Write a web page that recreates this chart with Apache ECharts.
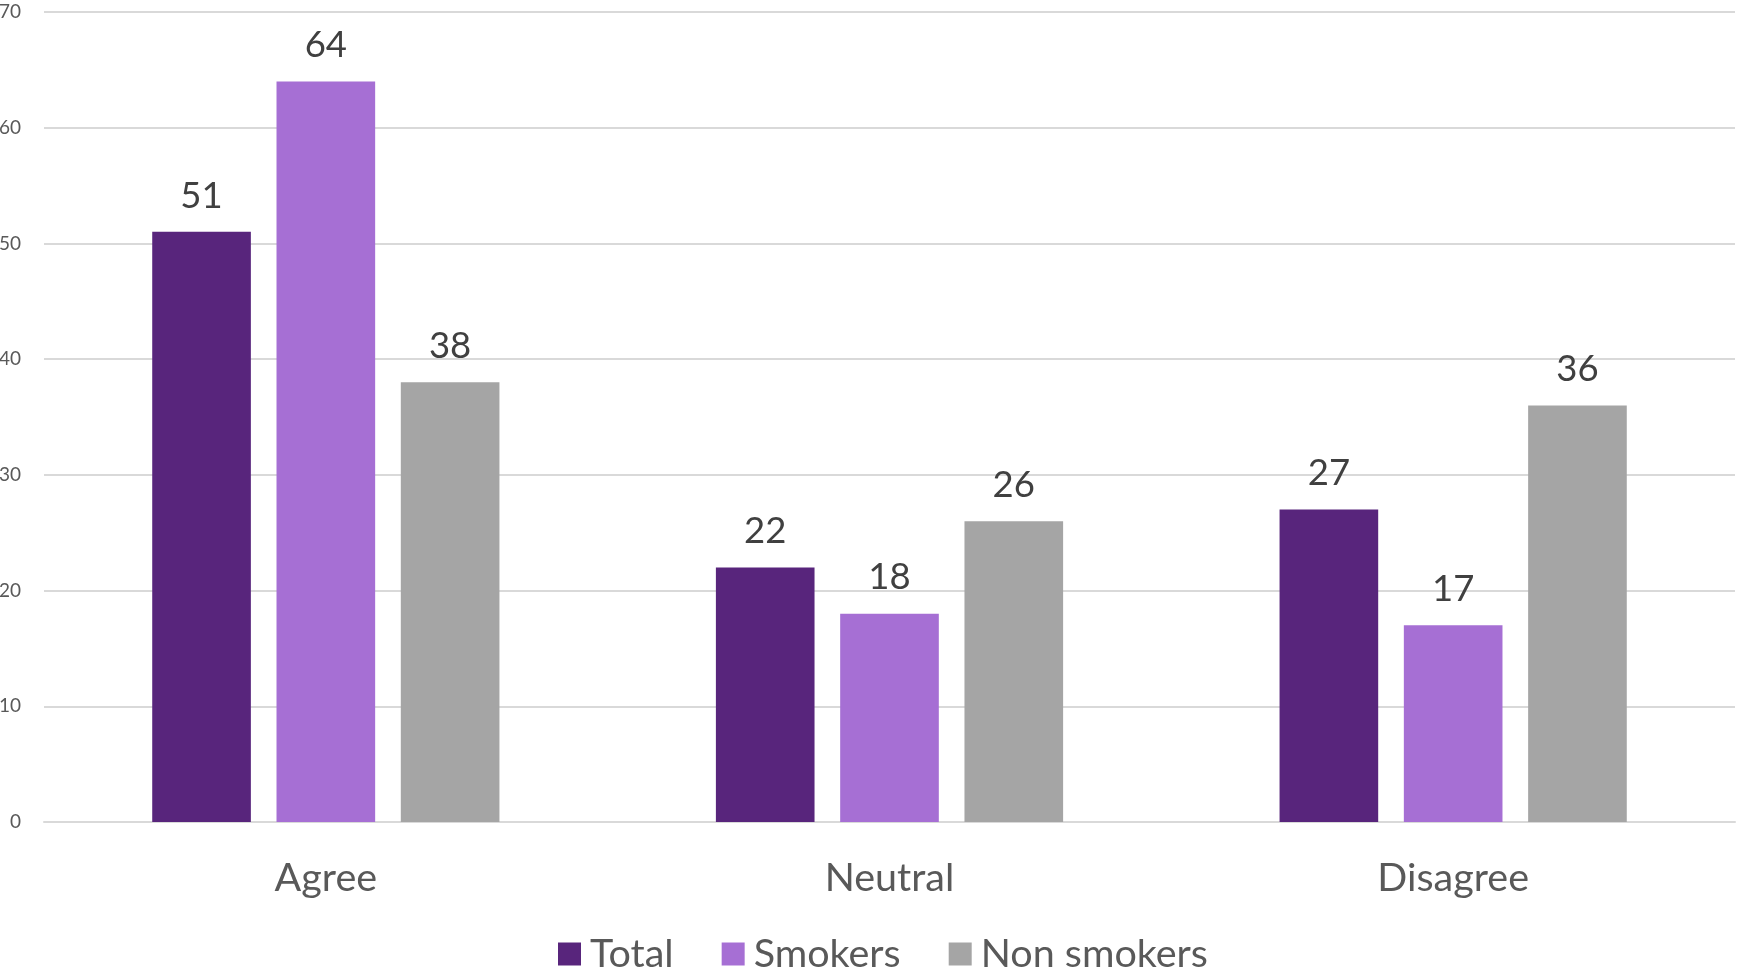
<!DOCTYPE html>
<html>
<head>
<meta charset="utf-8">
<script src="https://cdn.jsdelivr.net/npm/echarts@6/dist/echarts.min.js"></script>
<style>
html,body{margin:0;padding:0;background:#fff;}
#chart{width:1737px;height:970px;}
</style>
</head>
<body>
<div id="chart"></div>
<script>
const categories = ['Agree', 'Neutral', 'Disagree'];
const seriesNames = ['Total', 'Smokers', 'Non smokers'];
const totalValues = [51, 22, 27];
const smokersValues = [64, 18, 17];
const nonSmokersValues = [38, 26, 36];
const yTicks = [0, 10, 20, 30, 40, 50, 60, 70];

const colors = ['#58257C', '#A66FD4', '#A5A5A5'];
const font = 'Lato, "Open Sans", sans-serif';

const chart = echarts.init(document.getElementById('chart'));
const valueArrays = [totalValues, smokersValues, nonSmokersValues];

chart.setOption({
  animation: false,
  color: colors,
  grid: { left: 44, right: 2, top: 12, bottom: 148, containLabel: false, outerBoundsMode: 'none' },
  legend: {
    data: seriesNames,
    top: 929,
    left: 553,
    itemWidth: 23,
    itemHeight: 23,
    itemGap: 48,
    icon: 'rect',
    textStyle: { fontFamily: font, fontSize: 39.5, color: '#595959', padding: [0, 0, 0, 4] }
  },
  xAxis: {
    type: 'category',
    data: categories,
    axisLine: { show: true, lineStyle: { color: '#D9D9D9', width: 2 } },
    axisTick: { show: false },
    axisLabel: { fontFamily: font, fontSize: 39.5, color: '#595959', margin: 36 }
  },
  yAxis: {
    type: 'value',
    min: yTicks[0],
    max: yTicks[yTicks.length - 1],
    interval: 10,
    axisLine: { show: false },
    axisTick: { show: false },
    splitLine: { lineStyle: { color: '#D9D9D9', width: 2 } },
    axisLabel: { fontFamily: font, fontSize: 19, color: '#595959', margin: 23 }
  },
  series: seriesNames.map((name, i) => ({
    name: name,
    type: 'bar',
    data: valueArrays[i],
    barWidth: '17.5%',
    barGap: '26%',
    itemStyle: { color: colors[i] },
    label: {
      show: true,
      position: 'top',
      distance: 18,
      fontFamily: font,
      fontSize: 36.5,
      lineHeight: 36,
      color: '#404040'
    }
  }))
});
</script>
</body>
</html>
